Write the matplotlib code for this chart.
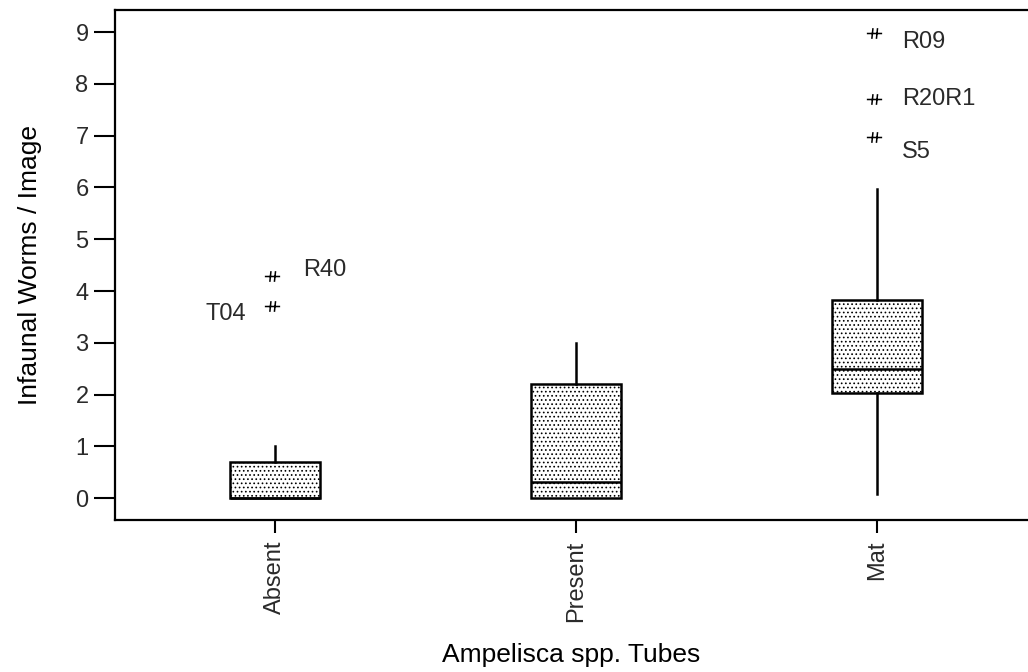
import matplotlib
matplotlib.use("Agg")
import matplotlib.pyplot as plt
from matplotlib.path import Path

plt.rcParams["font.family"] = ["Liberation Sans", "DejaVu Sans"]
plt.rcParams["text.color"] = "#2a2a2a"
plt.rcParams["xtick.color"] = "black"
plt.rcParams["ytick.color"] = "black"
plt.rcParams["xtick.labelcolor"] = "#2a2a2a"
plt.rcParams["ytick.labelcolor"] = "#2a2a2a"
plt.rcParams["hatch.linewidth"] = 0.7
plt.rcParams["hatch.color"] = "#222222"

# Box summary per tube class
groups = ["Absent", "Present", "Mat"]
q1 = [0.0, 0.0, 2.03]
medians = [0.0, 0.32, 2.5]
q3 = [0.7, 2.2, 3.82]
whisk_lo = [0.0, 0.0, 0.08]
whisk_hi = [1.0, 3.0, 5.97]

# Flagged outliers: group index, value, station label
outlier_group = [0, 0, 2, 2, 2]
outlier_vals = [4.3, 3.72, 8.98, 7.7, 6.98]
outlier_names = ["R40", "T04", "R09", "R20R1", "S5"]
# label offsets in pixels from each marker
label_dx = [28, -29, 25, 25, 25]
label_dy = [6, -8, -9, 0, -15]

# outlier glyph: a dash crossed by two short strokes
star = Path(
    [(-1, 0), (1, 0), (-0.35, -0.7), (-0.2, 0.7), (0.25, -0.7), (0.4, 0.7)],
    [Path.MOVETO, Path.LINETO, Path.MOVETO, Path.LINETO, Path.MOVETO, Path.LINETO],
)

fig = plt.figure(figsize=(10.28, 6.72), dpi=100)
ax = fig.add_axes([115 / 1028, 1 - 520 / 672, 1 - 115 / 1028, 510 / 672])

stats = []
for i, g in enumerate(groups):
    stats.append({
        "label": g, "q1": q1[i], "med": medians[i], "q3": q3[i],
        "whislo": whisk_lo[i], "whishi": whisk_hi[i], "fliers": [],
    })

bp = ax.bxp(stats, positions=[1, 2, 3], widths=0.3, patch_artist=True,
            showcaps=False, showfliers=False,
            boxprops=dict(facecolor="white", edgecolor="black", linewidth=1.8),
            medianprops=dict(color="black", linewidth=1.8),
            whiskerprops=dict(color="black", linewidth=1.8))
for box in bp["boxes"]:
    box.set_hatch("....")

for g, v, name, dx, dy in zip(outlier_group, outlier_vals, outlier_names, label_dx, label_dy):
    x = g + 1
    ax.plot(x - 0.01, v, marker=star, color="black", markersize=11, markeredgewidth=1.1)
    ax.annotate(name, (x, v), xytext=(dx, dy), textcoords="offset pixels",
                ha="left" if dx > 0 else "right", va="center", fontsize=17)

ax.set_xlim(0.468, 3.502)
ax.set_ylim(-0.419, 9.425)
ax.set_yticks(range(10))
ax.set_xticks([1, 2, 3])
ax.set_xticklabels(groups, rotation=90, fontsize=17)
ax.tick_params(axis="y", direction="out", length=15, width=1.5, labelsize=17, pad=4)
ax.tick_params(axis="x", direction="out", length=9, width=1.5, pad=6)
ax.spines["right"].set_visible(False)
for s in ["left", "top", "bottom"]:
    ax.spines[s].set_linewidth(1.6)

ax.set_ylabel("Infaunal Worms / Image", fontsize=19)
ax.set_xlabel("Ampelisca spp. Tubes", fontsize=19)
ax.xaxis.set_label_coords(0.5, -(655 - 520) / 510)
ax.yaxis.set_label_coords(-(115 - 30) / 913, 0.5)
ax.xaxis.label.set_va("center")
ax.yaxis.label.set_va("center")

fig.savefig("out.png", dpi=100)
